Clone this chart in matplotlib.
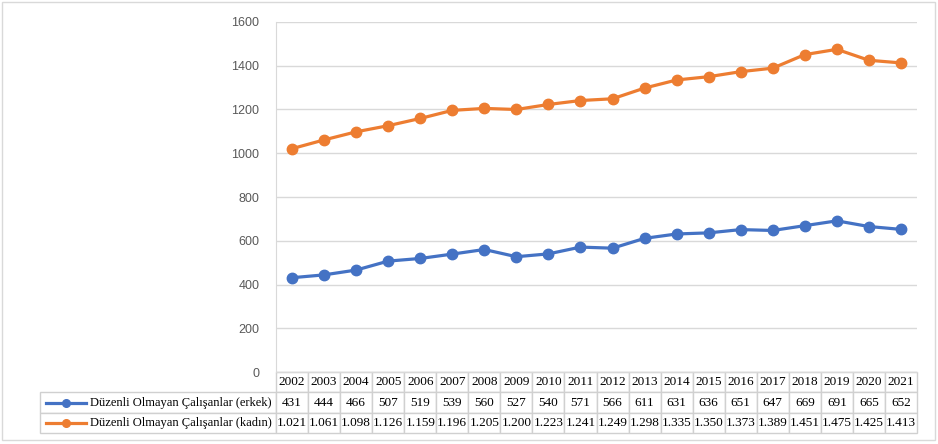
import numpy as np
import matplotlib.pyplot as plt
from matplotlib.lines import Line2D
from matplotlib.patches import Rectangle

years = [str(y) for y in range(2002, 2022)]
erkek = [431, 444, 466, 507, 519, 539, 560, 527, 540, 571, 566, 611, 631, 636, 651, 647, 669, 691, 665, 652]
kadin = [1021, 1061, 1098, 1126, 1159, 1196, 1205, 1200, 1223, 1241, 1249, 1298, 1335, 1350, 1373, 1389, 1451, 1475, 1425, 1413]
erkek_txt = [str(v) for v in erkek]
kadin_txt = ['1.021', '1.061', '1.098', '1.126', '1.159', '1.196', '1.205', '1.200', '1.223', '1.241',
             '1.249', '1.298', '1.335', '1.350', '1.373', '1.389', '1.451', '1.475', '1.425', '1.413']
labels = ['Düzenli Olmayan Çalışanlar (erkek)', 'Düzenli Olmayan Çalışanlar (kadın)']

blue = '#4472C4'
orange = '#ED7D31'
W, H = 938, 444

fig = plt.figure(figsize=(W / 100, H / 100), dpi=100)
fig.patches.append(Rectangle((2 / W, 4 / H), 933 / W, 438 / H, transform=fig.transFigure,
                             fill=False, edgecolor='#D9D9D9', lw=1))

x0, x1, ytop, ybot = 276, 917, 22, 372
ax = fig.add_axes([x0 / W, 1 - ybot / H, (x1 - x0) / W, (ybot - ytop) / H])
x = np.arange(len(years))
ax.plot(x, erkek, color=blue, lw=2.3, marker='o', ms=7.5, zorder=3)
ax.plot(x, kadin, color=orange, lw=2.3, marker='o', ms=7.5, zorder=3)
ax.set_xlim(-0.5, len(years) - 0.5)
ax.set_ylim(0, 1600)
ax.set_yticks(range(0, 1601, 200))
ax.grid(axis='y', color='#D9D9D9', lw=1)
ax.set_axisbelow(True)
ax.set_xticks([])
for s in ['top', 'right']:
    ax.spines[s].set_visible(False)
ax.spines['left'].set_color('#D9D9D9')
ax.spines['bottom'].set_color('#D9D9D9')
ax.tick_params(axis='y', length=0, pad=12, labelsize=9, labelcolor='#595959')
for t in ax.get_yticklabels():
    t.set_fontfamily('Liberation Sans')

# data table under the axis
tl, tr, tt, tb = 40, 917, 372, 433
lab_w = x0 - tl
col_w = (x1 - x0) / len(years)
cells = [[''] + years, [labels[0]] + erkek_txt, [labels[1]] + kadin_txt]
tab = ax.table(cellText=cells, cellLoc='center',
               colWidths=[lab_w] + [col_w] * len(years),
               bbox=[(tl - x0) / (x1 - x0), -(tb - tt) / (ybot - ytop),
                     (tr - tl) / (x1 - x0), (tb - tt) / (ybot - ytop)])
tab.auto_set_font_size(False)
for (r, c), cell in tab.get_celld().items():
    cell.set_edgecolor('#D0D0D0')
    cell.set_linewidth(1)
    cell.get_text().set_fontfamily('Liberation Serif')
    cell.get_text().set_fontsize(9.5)
    if c == 0:
        cell.get_text().set_fontsize(9)
        cell.get_text().set_ha('right')
        cell._loc = 'right'
        cell.PAD = 0.02
    if r == 0 and c == 0:
        cell.set_edgecolor('none')

# legend keys in the row-label cells
for i, col in enumerate([blue, orange]):
    yc = 1 - (tt + (tb - tt) * (i + 1.5) / 3) / H
    fig.add_artist(Line2D([46 / W, 86 / W], [yc, yc], color=col, lw=2.3,
                          transform=fig.transFigure))
    fig.add_artist(Line2D([66 / W], [yc], color=col, marker='o', ms=5.5,
                          transform=fig.transFigure))

fig.savefig('out.png', dpi=100)
